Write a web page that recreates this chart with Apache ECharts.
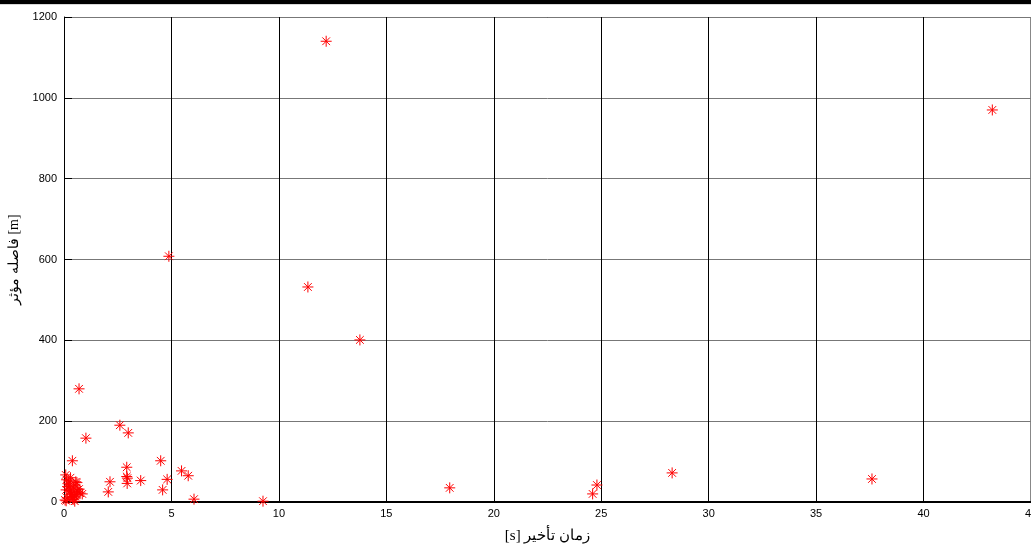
<!DOCTYPE html>
<html><head><meta charset="utf-8">
<script src="https://cdn.jsdelivr.net/npm/echarts@6/dist/echarts.min.js"></script>
<style>html,body{margin:0;padding:0;background:#fff}#c{width:1031px;height:546px}</style>
</head><body><div id="c"></div>
<script>
const xLabelText = '\u202Bزمان تأخير [s]\u202C';
const yLabelText = 'فاصله مؤثر [m]';
const xTicks = [0,5,10,15,20,25,30,35,40,45];
const yTicks = [0,200,400,600,800,1000,1200];
const delayTime = [12.2,43.2,4.88,11.35,13.77,0.70,1.02,2.6,2.99,0.39,4.5,2.92,2.92,2.95,2.94,3.57,2.14,2.06,4.59,4.8,5.47,5.78,6.05,9.26,17.95,24.6,24.8,28.3,37.6,
  0.08,0.12,0.2,0.3,0.45,0.55,0.65,0.1,0.25,0.35,0.5,0.6,0.75,0.15,0.28,0.4,0.52,0.05,0.18,0.33,0.47,0.62,0.85,0.22,0.38,0.1,0.3,0.5,0.7,0.42,0.58];
const distance = [1140,970,608,532,401,280,158,190,171,102,102,86,63,59,46,53,50,25,30,56,77,65,7,2,35,20,42,72,57,
  67,55,45,60,35,50,25,30,40,20,15,48,22,10,28,12,42,5,38,18,8,30,20,52,14,3,25,2,32,6,18];
const data = delayTime.map((x,i)=>[x,distance[i]]);
const chart = echarts.init(document.getElementById('c'));
chart.setOption({
  animation:false,
  grid:{left:64,right:0,top:17,bottom:44,show:false,containLabel:false,outerBoundsMode:'none'},
  graphic:[
    {type:'rect',shape:{x:0,y:0,width:1031,height:4},style:{fill:'#000'}},
    {type:'rect',shape:{x:0,y:4,width:1031,height:1},style:{fill:'#d8d8d8'}},
    {type:'line',shape:{x1:64,y1:17.5,x2:1031,y2:17.5},style:{stroke:'#000',lineWidth:1}},
    {type:'line',shape:{x1:1030.5,y1:17,x2:1030.5,y2:502},style:{stroke:'#888',lineWidth:1}}
  ],
  xAxis:{type:'value',min:0,max:45,interval:5,
    name:xLabelText,nameLocation:'middle',nameGap:27,
    nameTextStyle:{fontFamily:'Liberation Serif',fontSize:15,color:'#000'},
    axisLine:{lineStyle:{color:'#000',width:2}},
    axisTick:{show:true,inside:true,length:5,lineStyle:{color:'#000'}},
    axisLabel:{fontFamily:'Liberation Sans',fontSize:11,color:'#000',margin:6,
      formatter:v=>String(xTicks.find(t=>t===v) ?? v)},
    splitLine:{show:true,lineStyle:{color:'#000',width:1}}},
  yAxis:{type:'value',min:0,max:1200,interval:200,
    name:yLabelText,nameLocation:'middle',nameGap:43,nameRotate:90,
    nameTextStyle:{fontFamily:'Liberation Serif',fontSize:14,color:'#000'},
    axisLine:{show:true,lineStyle:{color:'#000',width:1}},
    axisTick:{show:true,inside:true,length:8,lineStyle:{color:'#000'}},
    axisLabel:{fontFamily:'Liberation Sans',fontSize:11,color:'#000',margin:7,
      formatter:v=>String(yTicks.find(t=>t===v) ?? v)},
    splitLine:{show:true,lineStyle:{color:'#777',width:1}}},
  series:[{type:'scatter',data:data,
    symbol:'path://M5,0L5,10M0,5L10,5M1.5,1.5L8.5,8.5M1.5,8.5L8.5,1.5',
    symbolSize:11,
    itemStyle:{color:'none',borderColor:'#ff0000',borderWidth:1,opacity:1}}]
});
</script></body></html>
